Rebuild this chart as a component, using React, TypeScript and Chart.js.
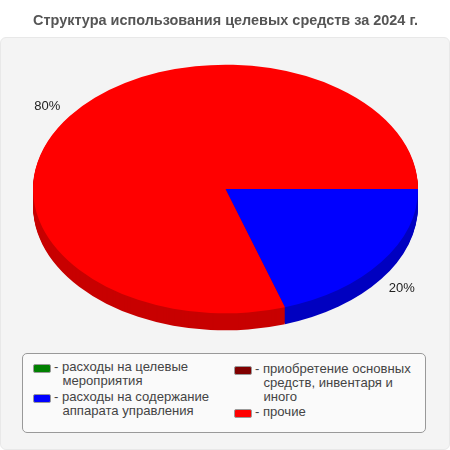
import { useEffect, useRef } from 'react';
import { Chart, registerables } from 'chart.js';

Chart.register(...registerables);

const TITLE = 'Структура использования целевых средств за 2024 г.';
const categories = [
  'расходы на целевые мероприятия',
  'расходы на содержание аппарата управления',
  'приобретение основных средств, инвентаря и иного',
  'прочие',
];
const values = [0, 20, 0, 80];
const topColors = ['#008000', '#0000ff', '#800000', '#ff0000'];
const sideColors = ['#006400', '#0000c0', '#640000', '#c80000'];

const SQUASH = 124 / 192;
const DEPTH = 17;
const CENTER_Y = 189;
const LABEL_FONT = '13px "Liberation Sans", Arial, sans-serif';

// the pie is a normal one, only squashed and given a side wall
const tiltPlugin = {
  id: 'tilt',
  beforeDatasetsDraw(chart: any) {
    const ctx = chart.ctx;
    const arcs = chart.getDatasetMeta(0).data;
    const { x, y } = arcs[0];
    const applyTilt = (dy: number) => {
      ctx.translate(x, CENTER_Y + dy);
      ctx.scale(1, SQUASH);
      ctx.translate(-x, -y);
    };
    for (let dy = DEPTH; dy > 0; dy--) {
      arcs.forEach((arc: any, i: number) => {
        if (!values[i]) return;
        ctx.save();
        applyTilt(dy);
        ctx.fillStyle = sideColors[i];
        ctx.beginPath();
        ctx.moveTo(arc.x, arc.y);
        ctx.arc(arc.x, arc.y, arc.outerRadius, arc.startAngle, arc.endAngle);
        ctx.closePath();
        ctx.fill();
        ctx.restore();
      });
    }
    ctx.save();
    applyTilt(0);
  },
  afterDatasetsDraw(chart: any) {
    const ctx = chart.ctx;
    ctx.restore();
    const total = values.reduce((a, b) => a + b, 0);
    chart.getDatasetMeta(0).data.forEach((arc: any, i: number) => {
      if (!values[i]) return;
      const mid = (arc.startAngle + arc.endAngle) / 2;
      const r = arc.outerRadius * 1.145;
      const sin = Math.sin(mid);
      const cos = Math.cos(mid);
      ctx.save();
      ctx.font = LABEL_FONT;
      ctx.fillStyle = '#222222';
      ctx.textAlign = 'center';
      ctx.textBaseline = 'middle';
      ctx.fillText(
        `${Math.round((values[i] / total) * 100)}%`,
        arc.x + r * cos + (cos > 0 ? -2 : 0),
        CENTER_Y + r * SQUASH * sin + (sin > 0 ? DEPTH - 1 : 1),
      );
      ctx.restore();
    });
  },
};

function LegendItem({ index, lines, top, left }: { index: number; lines: string[]; top: number; left: number }) {
  return (
    <>
      <div
        style={{
          position: 'absolute',
          left,
          top: top + 1,
          width: 16,
          height: 7,
          background: topColors[index],
          border: '1px solid #999',
          borderRadius: 2,
        }}
      />
      <div style={{ position: 'absolute', left: left + 21, top: top - 3, lineHeight: '14px', fontSize: 13.1, color: '#444', whiteSpace: 'nowrap' }}>
        {lines.map((line, i) => (
          <div key={i}>{i === 0 ? `- ${line}` : <span style={{ marginLeft: 8.5 }}>{line}</span>}</div>
        ))}
      </div>
    </>
  );
}

export default function App() {
  const canvasRef = useRef<HTMLCanvasElement>(null);

  useEffect(() => {
    if (!canvasRef.current) return;
    const chart = new Chart(canvasRef.current, {
      type: 'pie',
      data: {
        labels: categories,
        datasets: [{ data: values, backgroundColor: topColors, borderWidth: 0 }],
      },
      options: {
        responsive: false,
        animation: false,
        devicePixelRatio: 1,
        rotation: 90,
        layout: { padding: { left: 33, right: 32, bottom: 24 } },
        plugins: {
          legend: { display: false },
          tooltip: { enabled: false },
          title: {
            display: true,
            text: TITLE,
            color: '#555555',
            font: { family: '"Liberation Sans", Arial, sans-serif', size: 14.8, weight: 'bold' },
            padding: { top: 12, bottom: 10 },
          },
        },
      },
      plugins: [tiltPlugin],
    });
    return () => chart.destroy();
  }, []);

  return (
    <div style={{ position: 'absolute', left: 0, top: 0, width: 450, height: 450, background: '#fff', fontFamily: '"Liberation Sans", Arial, sans-serif' }}>
      <div
        style={{
          position: 'absolute',
          left: 0,
          top: 37,
          width: 448,
          height: 411,
          background: '#f4f4f4',
          border: '1px solid #e8e8e8',
          borderRadius: 6,
        }}
      />
      <canvas ref={canvasRef} width={450} height={450} style={{ position: 'absolute', left: 0, top: 0 }} />
      <div
        style={{
          position: 'absolute',
          left: 22,
          top: 353,
          width: 402,
          height: 78,
          background: '#fafafa',
          border: '1px solid #999',
          borderRadius: 5,
        }}
      />
      <LegendItem index={0} lines={['расходы на целевые', 'мероприятия']} top={363} left={33} />
      <LegendItem index={1} lines={['расходы на содержание', 'аппарата управления']} top={393} left={33} />
      <LegendItem index={2} lines={['приобретение основных', 'средств, инвентаря и', 'иного']} top={365} left={234} />
      <LegendItem index={3} lines={['прочие']} top={408} left={234} />
    </div>
  );
}
